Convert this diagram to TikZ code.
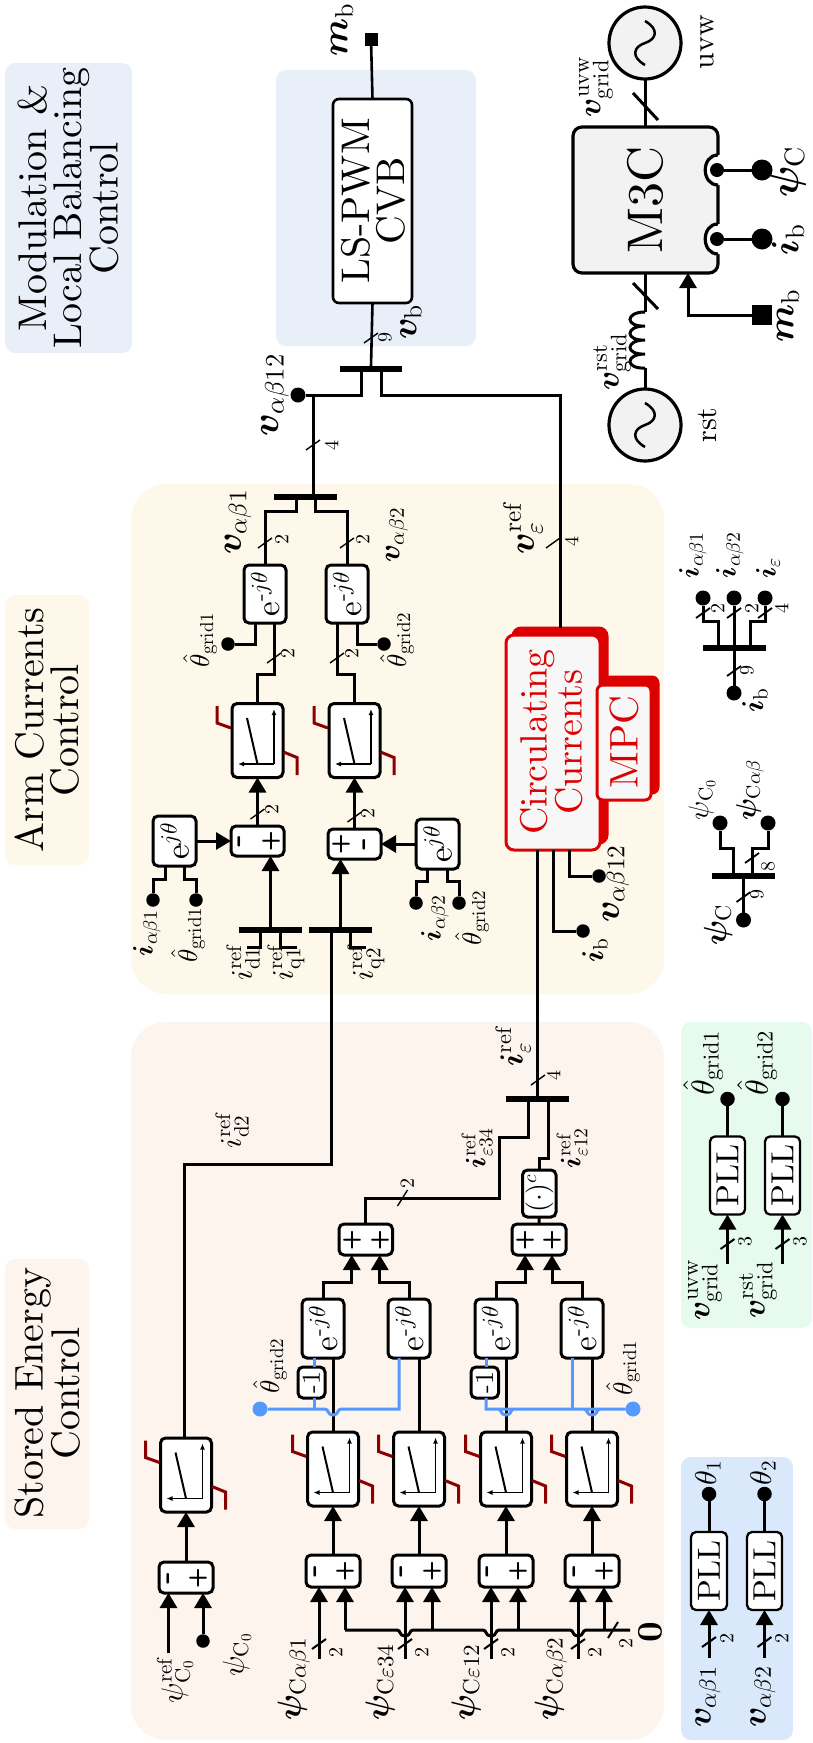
\RequirePackage{fix-cm}
\documentclass[tikz,border=0pt]{standalone}
\usepackage[OT1]{fontenc}
\usepackage{amsmath,bm,graphicx}
\usetikzlibrary{arrows.meta,calc}
\DeclareFontFamily{OT1}{mycmr}{\hyphenchar\font45 }
\DeclareFontShape{OT1}{mycmr}{m}{n}{<->cmr10}{}
\DeclareFontShape{OT1}{mycmr}{bx}{n}{<->cmbx10}{}
\DeclareFontFamily{OML}{mycmm}{\skewchar\font127 }
\DeclareFontShape{OML}{mycmm}{m}{it}{<->cmmi10}{}
\DeclareFontShape{OML}{mycmm}{b}{it}{<->cmmib10}{}
\DeclareSymbolFont{operators}{OT1}{mycmr}{m}{n}
\SetSymbolFont{operators}{bold}{OT1}{mycmr}{bx}{n}
\DeclareSymbolFont{letters}{OML}{mycmm}{m}{it}
\SetSymbolFont{letters}{bold}{OML}{mycmm}{b}{it}
\renewcommand{\rmdefault}{mycmr}
\renewcommand{\familydefault}{mycmr}
\definecolor{bgmod}{HTML}{E8EFF8}
\definecolor{bgarm}{HTML}{FDF8EA}
\definecolor{bgsto}{HTML}{FDF4EE}
\definecolor{bggrn}{HTML}{E6FBEE}
\definecolor{bgpll}{HTML}{DAE8FC}
\definecolor{grayf}{HTML}{F2F2F2}
\definecolor{redb}{HTML}{DC0000}
\definecolor{sat}{HTML}{8B0000}
\definecolor{bluel}{HTML}{5599FF}
\newcommand{\fsz}[1]{\fontsize{#1}{35}\selectfont}
\newcommand{\sgf}[1]{\fontencoding{TU}\fontfamily{lmss}\fontseries{bx}\fontshape{n}\fontsize{#1}{35}\selectfont}
\newcounter{lbc}
\newcommand{\Lb}[5][]{\stepcounter{lbc}\node[rotate=90,font=\fsz{#4},#1] (lb\arabic{lbc}) at (#2,#3) {#5};}
\newcommand{\Bx}[7][]{\pgfmathsetmacro\bxc{(#3+#5)/2}\pgfmathsetmacro\byc{(#4+#6)/2}\pgfmathsetmacro\bxw{#5-#3}\pgfmathsetmacro\bxh{#6-#4}\node[blk,minimum width=\bxw pt,minimum height=\bxh pt,#1] (#2) at (\bxc,\byc) {#7};}
\newcommand{\Bg}[6][]{\pgfmathsetmacro\bxc{(#3+#5)/2}\pgfmathsetmacro\byc{(#4+#6)/2}\pgfmathsetmacro\bxw{#5-#3}\pgfmathsetmacro\bxh{#6-#4}\node[rectangle,minimum width=\bxw pt,minimum height=\bxh pt,rounded corners=10pt,#1] (#2) at (\bxc,\byc) {};}
\newcommand{\BusB}[4]{\node[rectangle,fill=black,minimum width=#4pt,minimum height=6pt] (#1) at (#2,#3) {};}
\newcommand{\DotN}[4][13.5]{\node[dotn,minimum size=#1pt] (#2) at (#3,#4) {};}
\newcommand{\Tk}[3][1.4]{\draw[line width=#1pt] ({#2-7},{#3+5}) -- ({#2+7},{#3-5});}
\newcommand{\Th}[3][1.4]{\draw[line width=#1pt] ({#2-5},{#3+8}) -- ({#2+5},{#3-8});}
\newcommand{\PIb}[3]{\node[blk,minimum width=51pt,minimum height=74pt] (#1) at ({#2+25.5},{#3+37}) {};
 \begin{scope}[shift={(#1.center)}]
 \draw[line width=1.5pt,-{Latex[length=6pt,width=5pt]}] (16.5,23.5) -- (-19.5,23.5);
 \draw[line width=1.5pt,-{Latex[length=6pt,width=5pt]}] (16.5,23.5) -- (16.5,-31.5);
 \draw[line width=2pt] (0,23.5) -- (-10.5,-22.5);
 \draw[satl] (-40.5,-34.5) -- (-40.5,-17.5) -- (-26.5,-12.5);
 \draw[satl] (26,11.5) -- (39.5,17) -- (39.5,34.5);
 \end{scope}}
\newcommand{\Sg}[3]{\Lb[font=\sgf{24}]{#1}{#2}{24}{#3}}
\newcommand{\Mn}[2]{\Lb[font=\sgf{36}]{#1}{#2}{36}{-}}
\newcommand{\jg}[2]{-- ({#1-8},#2) .. controls ({#1-4},#2) and ({#1-6},{#2+6}) .. (#1,{#2+6}) .. controls ({#1+6},{#2+6}) and ({#1+4},#2) .. ({#1+8},#2)}
\newcommand{\Sine}[2]{\draw[line width=2.5pt] (#1,{#2+22}) .. controls ({#1-14},{#2+14}) and ({#1-12},{#2+4}) .. (#1,#2) .. controls ({#1+12},{#2-4}) and ({#1+14},{#2-14}) .. (#1,{#2-22});}
\newcommand{\Notch}[1]{\fill[white] (718,{#1-15}) .. controls (701,{#1-15}) and (701,{#1+15}) .. (718,{#1+15}) -- (721,{#1+15}) -- (721,{#1-15}) -- cycle;
 \draw[line width=3.2pt] (718,{#1-15}) .. controls (701,{#1-15}) and (701,{#1+15}) .. (718,{#1+15});}
\newcommand{\ejm}{$\mathrm{e}^{\text{-}j\theta}$}
\newcommand{\ejp}{$\mathrm{e}^{j\theta}$}
\tikzset{x=1pt,y=-1pt,
 every node/.style={inner sep=0pt,outer sep=0pt},
 sig/.style={line width=3pt},
 sigar/.style={line width=3pt,-{Triangle[length=15pt,width=17pt]}},
 blu/.style={line width=3pt,draw=bluel},
 satl/.style={line width=3pt,draw=sat},
 blk/.style={rectangle,draw=black,fill=white,line width=3pt,rounded corners=5pt},
 dotn/.style={circle,fill=black},
 shad/.style={fill=redb,draw=redb,rounded corners=8pt},
 redbox/.style={fill=white!97!black,draw=redb,rounded corners=8pt}
}
\begin{document}
\begin{tikzpicture}
\useasboundingbox (0,0) rectangle (813,1743);
% ---- backgrounds
\Bg[fill=bgmod]{gmodl}{5}{63}{132}{353}
\Bg[fill=bgmod]{gmod}{276}{70}{476}{346}
\Bg[fill=bgarm]{garml}{5}{595}{89}{865}
\Bg[fill=bgarm,rounded corners=35pt]{garm}{131}{484}{664}{994}
\Bg[fill=bgsto]{gstol}{5}{1259}{89}{1529}
\Bg[fill=bgsto,rounded corners=35pt]{gsto}{131}{1022}{664}{1740}
\Bg[fill=bggrn]{ggrn}{681}{1022}{812}{1328}
\Bg[fill=bgpll]{gpll}{681}{1457}{793}{1740}
\Lb[align=center]{68}{208}{40}{Modulation \&\\Local Balancing\\Control}
\Lb[align=center]{47}{730}{40}{Arm Currents\\Control}
\Lb[align=center]{47}{1393}{40}{Stored Energy\\Control}
% ---- top chain
\node[rectangle,fill=black,minimum size=13pt] (mbt) at (371,39) {};
\Bx[line width=2.6pt,rounded corners=6pt]{ls}{333}{99}{412}{303}{}
\Lb[align=center]{373}{201}{40}{LS-PWM\\CVB}
\BusB{busv}{371}{369}{62}
\DotN[15]{dva0}{298}{395}
\coordinate (jv) at (313,395);
\BusB{busA}{305.5}{497}{63}
\draw[line width=2.6pt] (mbt) -- (ls.north);
\draw[line width=2.6pt] (ls.south) -- (busv.north);
\draw[sig] ([xshift=-10]busv.south) -- ++(0,23) -- (dva0);
\draw[sig] (jv) -- (jv |- busA.north);
% ---- M3C
\Bx[fill=grayf,rounded corners=9pt,line width=3.2pt]{mmc}{573}{127}{718}{273}{}
\Lb{645}{200}{50}{M3C}
\node[circle,draw=black,fill=grayf,line width=3.2pt,minimum size=72pt] (uvw) at (645,43) {};
\node[circle,draw=black,fill=grayf,line width=3.2pt,minimum size=72pt] (rst) at (645,425) {};
\Sine{645}{43}
\Sine{645}{425}
\Notch{170}
\Notch{239}
\DotN[14]{dm1}{717}{170}
\DotN[14]{dm2}{717}{239}
\DotN[21]{dm1o}{762}{170}
\DotN[21]{dm2o}{762}{239}
\draw[sig] (dm1) -- (dm1o);
\draw[sig] (dm2) -- (dm2o);
\node[rectangle,fill=black,minimum size=20pt] (mbs) at (761.5,315) {};
\draw[sigar] (mbs) -| ([xshift=42.5]mmc.south);
\draw[sig] (uvw.south) -- (uvw.south |- mmc.north);
\coordinate (cA) at (645,312);
\coordinate (cB) at (645,368);
\draw[sig] (mmc.south -| cA) -- (cA);
\draw[sig] (cA) .. controls (625,312) and (625,327) .. (645,326) .. controls (625,326) and (625,341) .. (645,340) .. controls (625,340) and (625,355) .. (645,354) .. controls (625,354) and (625,369) .. (cB);
\draw[sig] (cB) -- (rst.north);
\draw[sig] (633,93) -- (658,120);
\draw[sig] (633,283) -- (658,309);
% ---- Arm current control
\Bx{ej1}{244}{565}{286}{623}{\rotatebox{90}{\fsz{33}\ejm}}
\Bx{ej2}{326}{565}{368}{623}{\rotatebox{90}{\fsz{33}\ejm}}
\DotN{th1}{228}{644}
\DotN{th2}{384}{644}
\PIb{pi1}{232}{703.5}
\PIb{pi2}{329}{703.5}
\Bx{sum1}{231}{826}{284}{856}{}
\Bx{sum2}{328}{829}{381}{859}{}
\Mn{243}{841}\Sg{271}{841}{+}
\Sg{341}{844}{+}\Mn{368}{844}
\Bx{eA}{153}{816}{196}{866}{\rotatebox{90}{\fsz{33}\ejp}}
\Bx{eB}{416}{819}{459}{869}{\rotatebox{90}{\fsz{33}\ejp}}
\DotN{dA1}{153}{900}
\DotN{dA2}{196}{900}
\DotN{dB1}{416}{903}
\DotN{dB2}{459}{903}
\BusB{busq1}{270.5}{930}{63}
\BusB{busq2}{340.5}{930}{63}
\draw[sig] (ej1.north) -- ++(0,-54) -| ([xshift=-9.5]busA.south);
\draw[sig] (ej2.north) -- ++(0,-54) -| ([xshift=9.5]busA.south);
\draw[sig] ([xshift=-10]ej1.south) |- (th1);
\draw[sig] ([xshift=10]ej2.south) |- (th2);
\draw[sig] (pi1.north) -- ++(0,-29.5) -| ([xshift=9]ej1.south);
\draw[sig] (pi2.north) -- ++(0,-29.5) -| ([xshift=-10]ej2.south);
\draw[sigar] (sum1.north) -- (pi1.south);
\draw[sigar] (sum2.north) -- (pi2.south);
\draw[sigar] (eA.east) -- (sum1.west);
\draw[sigar] (eB.west) -- (sum2.east);
\draw[sig] ([xshift=-9.5]eA.south) -- ++(0,13) -| (dA1);
\draw[sig] ([xshift=9.5]eA.south) -- ++(0,13) -| (dA2);
\draw[sig] ([xshift=-10.5]eB.south) -- ++(0,12) -| (dB1);
\draw[sig] ([xshift=9.5]eB.south) -- ++(0,12) -| (dB2);
\draw[sigar] (busq1.north) -- (busq1.north |- sum1.south);
\draw[sigar] (busq2.north) -- (busq2.north |- sum2.south);
\draw[sig] ([xshift=-10.5]busq1.south) -- ++(0,14.5) -- ++(-13,0);
\draw[sig] ([xshift=9.5]busq1.south) -- ++(0,14.5) -- ++(17,0);
\draw[sig] ([xshift=9.5]busq2.south) -- ++(0,14.5) -- ++(16,0);
% ---- Circulating currents
\Bx[shad]{circS}{513}{628}{607}{843}{}
\Bx[redbox]{circ}{506}{635}{600}{850}{}
\Bx[shad,rounded corners=6pt]{mpcS}{604}{677}{658}{793}{}
\Bx[redbox,rounded corners=6pt]{mpc}{597}{685}{651}{800}{}
\Lb[text=redb,align=center]{551}{742}{38}{Circulating\\Currents}
\Lb[text=redb]{624}{742}{40}{MPC}
\DotN{dib}{583}{931}
\DotN{dval}{599}{876}
\draw[sig] ([xshift=10]busv.south) -- ++(0,23) -| (circS.north);
\draw[sig] (circ.south) |- (dib);
\draw[sig] ([xshift=16]circ.south) |- (dval);
% ---- Stored energy
\BusB{buse}{537.5}{1099}{63}
\draw[sig] (buse.north) -- (buse.north |- circ.south);
\Bx{sumL}{339}{1224}{392.5}{1255}{}
\Bx{sumR}{512}{1224}{566}{1255}{}
\Sg{352}{1240}{+}\Sg{380}{1240}{+}\Sg{525}{1240}{+}\Sg{552}{1240}{+}
\Bx{cbox}{522.5}{1170}{556}{1217}{\rotatebox{90}{\fsz{28}$(\cdot)^{c}$}}
\coordinate (je34a) at (499,1198);
\coordinate (je34b) at (528,1137);
\coordinate (je12) at (548,1158);
\draw[sig] (sumL.north) |- (je34a) |- (je34b) -- ([xshift=-9.5]buse.south);
\draw[sig] (sumR.north) -- (cbox.south);
\draw[sig] (cbox.north) |- (je12) -- ([xshift=10.5]buse.south);
\Bx{ejA}{302}{1299}{344}{1358}{\rotatebox{90}{\fsz{33}\ejm}}
\Bx{ejB}{388}{1299}{430}{1358}{\rotatebox{90}{\fsz{33}\ejm}}
\Bx{ejC}{475}{1299}{517}{1358}{\rotatebox{90}{\fsz{33}\ejm}}
\Bx{ejD}{561}{1299}{603}{1358}{\rotatebox{90}{\fsz{33}\ejm}}
\draw[sigar] (ejA.north) -- ++(0,-17) -| ([xshift=-14]sumL.south);
\draw[sigar] (ejB.north) -- ++(0,-17) -| ([xshift=14]sumL.south);
\draw[sigar] (ejC.north) -- ++(0,-17) -| ([xshift=-14]sumR.south);
\draw[sigar] (ejD.north) -- ++(0,-17) -| ([xshift=13]sumR.south);
\PIb{piA}{307.5}{1432}
\PIb{piB}{393.5}{1432}
\PIb{piC}{480.5}{1432}
\PIb{piD}{566.5}{1432}
\PIb{pi0}{160.5}{1438}
\Bx{sA}{306}{1555}{360}{1587}{}
\Bx{sB}{392}{1555}{446}{1587}{}
\Bx{sC}{479}{1555}{533}{1587}{}
\Bx{sD}{565}{1555}{619}{1587}{}
\Bx{s0}{159}{1562}{213}{1593}{}
\Mn{319}{1571}\Sg{345}{1571}{+}
\Mn{405}{1571}\Sg{432}{1571}{+}
\Mn{491}{1571}\Sg{518}{1571}{+}
\Mn{578}{1571}\Sg{604}{1571}{+}
\Mn{172}{1578}\Sg{198}{1578}{+}
\draw[sigar] (sA.north) -- (piA.south);
\draw[sigar] (sB.north) -- (piB.south);
\draw[sigar] (sC.north) -- (piC.south);
\draw[sigar] (sD.north) -- (piD.south);
\draw[sigar] (s0.north) -- (pi0.south);
\draw[sig] (piA.north) -- (piA.north |- ejA.south);
\draw[sig] (piB.north) -- (piB.north |- ejB.south);
\draw[sig] (piC.north) -- (piC.north |- ejC.south);
\draw[sig] (piD.north) -- (piD.north |- ejD.south);
\coordinate (jd2) at (331,1164);
\draw[sig] ([xshift=-2]pi0.north) |- (jd2) -- ([xshift=-9.5]busq2.south);
% -1 and blue lines
\node[dotn,fill=bluel,minimum size=15pt] (bd1) at (260,1409) {};
\node[dotn,fill=bluel,minimum size=15pt] (bd2) at (633,1409) {};
\Bx[rounded corners=5pt]{mA}{298}{1367}{325}{1398}{\rotatebox{90}{\fsz{26}-1}}
\Bx[rounded corners=5pt]{mC}{471}{1367}{498.5}{1398}{\rotatebox{90}{\fsz{26}-1}}
\coordinate (bjA) at (314,1409);
\coordinate (bjB) at (399,1409);
\coordinate (bjC) at (486,1409);
\coordinate (bjD) at (572.5,1409);
\draw[blu] (bd1) \jg{333}{1409} -- (bjB) -- (bjB |- ejB.south);
\draw[blu] (bjA) -- (bjA |- mA.south);
\draw[blu] ([xshift=2.5]mA.north) -- ([xshift=2.5]mA.north |- ejA.south);
\draw[blu] (bd2) -- (600,1409) \jg{592}{1409} -- (514,1409) \jg{506}{1409} -- (bjC) -- (bjC |- mC.south);
\draw[blu] (bjD) -- (bjD |- ejD.south);
\draw[blu] ([xshift=1.5]mC.north) -- ([xshift=1.5]mC.north |- ejC.south);
% inputs
\coordinate (inA) at (319,1659);
\coordinate (inB) at (405,1659);
\coordinate (inC) at (491,1659);
\coordinate (inD) at (578,1659);
\coordinate (bA) at (345,1630);
\coordinate (bB) at (432,1630);
\coordinate (bC) at (518,1630);
\coordinate (bD) at (604,1630);
\coordinate (bE) at (630,1630);
\draw[sigar] (inA) -- (inA |- sA.south);
\draw[sigar] (inB) -- (inB |- sB.south);
\draw[sigar] (inC) -- (inC |- sC.south);
\draw[sigar] (inD) -- (inD |- sD.south);
\draw[sigar] (bA) -- (bA |- sA.south);
\draw[sigar] (bB) -- (bB |- sB.south);
\draw[sigar] (bC) -- (bC |- sC.south);
\draw[sigar] (bD) -- (bD |- sD.south);
\draw[sig] (bA) \jg{405}{1630} \jg{491}{1630} \jg{578}{1630} -- (bE);
\coordinate (in0) at (168.5,1653);
\DotN{d0}{203}{1641}
\draw[sigar] (in0) -- (in0 |- s0.south);
\draw[sigar] (d0) -- (d0 |- s0.south);
% ---- PLL boxes
\Bx[line width=2.3pt]{pll1}{691}{1532}{727}{1610}{\rotatebox{90}{\fsz{32}PLL}}
\Bx[line width=2.3pt]{pll2}{747}{1532}{782}{1610}{\rotatebox{90}{\fsz{32}PLL}}
\DotN[14.5]{t1}{709}{1494}
\DotN[14.5]{t2}{764.5}{1494}
\coordinate (ip1) at (709,1658);
\coordinate (ip2) at (764.5,1658);
\draw[sig] (pll1.north) -- (t1);
\draw[sig] (pll2.north) -- (t2);
\draw[sigar] (ip1) -- (pll1.south);
\draw[sigar] (ip2) -- (pll2.south);
\Bx[line width=2.3pt]{pll3}{710}{1136.5}{745}{1214.5}{\rotatebox{90}{\fsz{32}PLL}}
\Bx[line width=2.3pt]{pll4}{765}{1136.5}{800}{1214.5}{\rotatebox{90}{\fsz{32}PLL}}
\DotN[14.5]{t3}{727.5}{1099}
\DotN[14.5]{t4}{782.5}{1099}
\coordinate (ip3) at (727.5,1264);
\coordinate (ip4) at (782.5,1264);
\draw[sig] (pll3.north) -- (t3);
\draw[sig] (pll4.north) -- (t4);
\draw[sigar] (ip3) -- (pll3.south);
\draw[sigar] (ip4) -- (pll4.south);
% ---- demux
\BusB{busi}{734.5}{648}{63}
\DotN[15]{dib2}{734}{693}
\DotN[15]{dit}{734}{598}
\DotN[15]{dil}{703}{598}
\DotN[15]{dir}{765}{598}
\draw[sig] (dib2) -- (dib2 |- busi.south);
\draw[sig] (dit) -- (dit |- busi.north);
\draw[sig] ([xshift=-16]busi.north) -- ++(0,-24) -| (dil);
\draw[sig] ([xshift=15.5]busi.north) -- ++(0,-24) -| (dir);
\BusB{busp}{743.5}{876}{63}
\DotN[15]{dpb}{743.5}{920}
\DotN[15]{dpl}{720}{823}
\DotN[15]{dpr}{768}{823}
\draw[sig] (dpb) -- (busp.south);
\draw[sig] ([xshift=-10.5]busp.north) -- ++(0,-25) -| (dpl);
\draw[sig] ([xshift=8.5]busp.north) -- ++(0,-25) -| (dpr);
% ---- ticks
\Tk{371}{338}\Tk{313}{445}\Tk{265}{543}\Tk{347}{543}\Tk{274}{658}\Tk{337}{658}
\Tk{257.5}{814}\Tk{354.5}{817}\Tk{553}{543}\Tk{538}{1080}
\Th{402.5}{1198}
\Tk[2]{319}{1644}\Tk[2]{405}{1644}\Tk[2]{491}{1644}\Tk[2]{578}{1644}
\Th[2]{613}{1630}
\Tk[2]{709}{1642}\Tk[2]{764.5}{1642}\Tk[2]{727.5}{1244}\Tk[2]{782.5}{1244}
\Tk[1.8]{703}{613}\Tk[1.8]{734}{613}\Tk[1.8]{765}{613}\Tk[1.8]{734}{671}
\Tk[1.8]{752}{858}\Tk[1.8]{743.5}{897}
% ---- tick labels
\Lb{385}{337}{20}{9}\Lb{332}{445}{20}{4}\Lb{282}{539}{20}{2}\Lb{363}{539}{20}{2}
\Lb{288}{653}{20}{2}\Lb{352}{653}{20}{2}\Lb{272}{809}{20}{2}\Lb{368}{813}{20}{2}
\Lb{572}{541}{20}{4}\Lb{554}{1075}{20}{4}\Lb{407.5}{1183}{20}{2}
\Lb{336}{1652}{20}{2}\Lb{422}{1652}{20}{2}\Lb{508}{1652}{20}{2}\Lb{595}{1652}{20}{2}\Lb{626}{1643}{20}{2}
\Lb{727}{1638}{20}{2}\Lb{782}{1638}{20}{2}\Lb{745}{1241}{20}{3}\Lb{800}{1241}{20}{3}
\Lb{718}{608}{20}{2}\Lb{752}{608}{20}{2}\Lb{782}{608}{20}{4}\Lb{747}{670}{20}{9}
\Lb{768}{866}{20}{8}\Lb{757}{894}{20}{9}
% ---- labels
\Lb{342}{30}{37}{$\bm{m}_{\mathrm{b}}$}
\Lb{411}{322}{36}{$\bm{v}_{\mathrm{b}}$}
\Lb{275}{395}{38}{$\bm{v}_{\alpha\beta 12}$}
\Lb{596}{87}{32}{$\bm{v}_{\mathrm{grid}}^{\mathrm{uvw}}$}
\Lb{612}{362}{32}{$\bm{v}_{\mathrm{grid}}^{\mathrm{rst}}$}
\Lb{707}{42}{30}{uvw}
\Lb{707}{425}{30}{rst}
\Lb{788}{172}{40}{$\bm{\psi}_{\mathrm{C}}$}
\Lb{788}{240}{38}{$\bm{i}_{\mathrm{b}}$}
\Lb{788}{316}{37}{$\bm{m}_{\mathrm{b}}$}
\Lb{238}{522}{36}{$\bm{v}_{\alpha\beta 1}$}
\Lb{397}{535}{30}{$\bm{v}_{\alpha\beta 2}$}
\Lb{523}{528}{36}{$\bm{v}_{\varepsilon}^{\mathrm{ref}}$}
\Lb{200}{640}{27}{$\hat{\theta}_{\mathrm{grid1}}$}
\Lb{397}{640}{27}{$\hat{\theta}_{\mathrm{grid2}}$}
\Lb{147}{933}{28}{$\bm{i}_{\alpha\beta 1}$}
\Lb{188}{935}{27}{$\hat{\theta}_{\mathrm{grid1}}$}
\Lb{435}{918}{28}{$\bm{i}_{\alpha\beta 2}$}
\Lb{472}{918}{27}{$\hat{\theta}_{\mathrm{grid2}}$}
\Lb{243}{962}{30}{$i_{\mathrm{d1}}^{\mathrm{ref}}$}
\Lb{286}{962}{30}{$i_{\mathrm{q1}}^{\mathrm{ref}}$}
\Lb{366}{962}{30}{$i_{\mathrm{q2}}^{\mathrm{ref}}$}
\Lb{616}{884}{36}{$\bm{v}_{\alpha\beta 12}$}
\Lb{595}{950}{30}{$\bm{i}_{\mathrm{b}}$}
\Lb{513}{1046}{32}{$\bm{i}_{\varepsilon}^{\mathrm{ref}}$}
\Lb{477}{1148}{28}{$\bm{i}_{\varepsilon 34}^{\mathrm{ref}}$}
\Lb{572}{1148}{28}{$\bm{i}_{\varepsilon 12}^{\mathrm{ref}}$}
\Lb{232}{1130}{30}{$i_{\mathrm{d2}}^{\mathrm{ref}}$}
\Lb{270}{1366}{27}{$\hat{\theta}_{\mathrm{grid2}}$}
\Lb{623}{1368}{27}{$\hat{\theta}_{\mathrm{grid1}}$}
\Lb{294}{1679}{33}{$\bm{\psi}_{\mathrm{C}\alpha\beta 1}$}
\Lb{380}{1682}{33}{$\bm{\psi}_{\mathrm{C}\varepsilon 34}$}
\Lb{466}{1682}{33}{$\bm{\psi}_{\mathrm{C}\varepsilon 12}$}
\Lb{551}{1679}{33}{$\bm{\psi}_{\mathrm{C}\alpha\beta 2}$}
\Lb{175}{1680}{30}{$\psi_{\mathrm{C}_0}^{\mathrm{ref}}$}
\Lb{237}{1655}{30}{$\psi_{\mathrm{C}_0}$}
\Lb[font=\fsz{36}\bfseries]{650}{1632}{36}{0}
\Lb{708}{1473}{30}{$\theta_{1}$}
\Lb{763}{1473}{30}{$\theta_{2}$}
\Lb{708}{1697}{34}{$\bm{v}_{\alpha\beta 1}$}
\Lb{763}{1697}{34}{$\bm{v}_{\alpha\beta 2}$}
\Lb{703}{1063}{32}{$\hat{\theta}_{\mathrm{grid1}}$}
\Lb{757}{1063}{32}{$\hat{\theta}_{\mathrm{grid2}}$}
\Lb{705}{1290}{32}{$\bm{v}_{\mathrm{grid}}^{\mathrm{uvw}}$}
\Lb{758}{1290}{32}{$\bm{v}_{\mathrm{grid}}^{\mathrm{rst}}$}
\Lb{693}{555}{28}{$\bm{i}_{\alpha\beta 1}$}
\Lb{730}{555}{28}{$\bm{i}_{\alpha\beta 2}$}
\Lb{768}{568}{28}{$\bm{i}_{\varepsilon}$}
\Lb{755}{700}{30}{$\bm{i}_{\mathrm{b}}$}
\Lb{718}{925}{32}{$\bm{\psi}_{\mathrm{C}}$}
\Lb{702}{800}{28}{$\psi_{\mathrm{C}_0}$}
\Lb{750}{790}{28}{$\bm{\psi}_{\mathrm{C}\alpha\beta}$}
\end{tikzpicture}
\end{document}
